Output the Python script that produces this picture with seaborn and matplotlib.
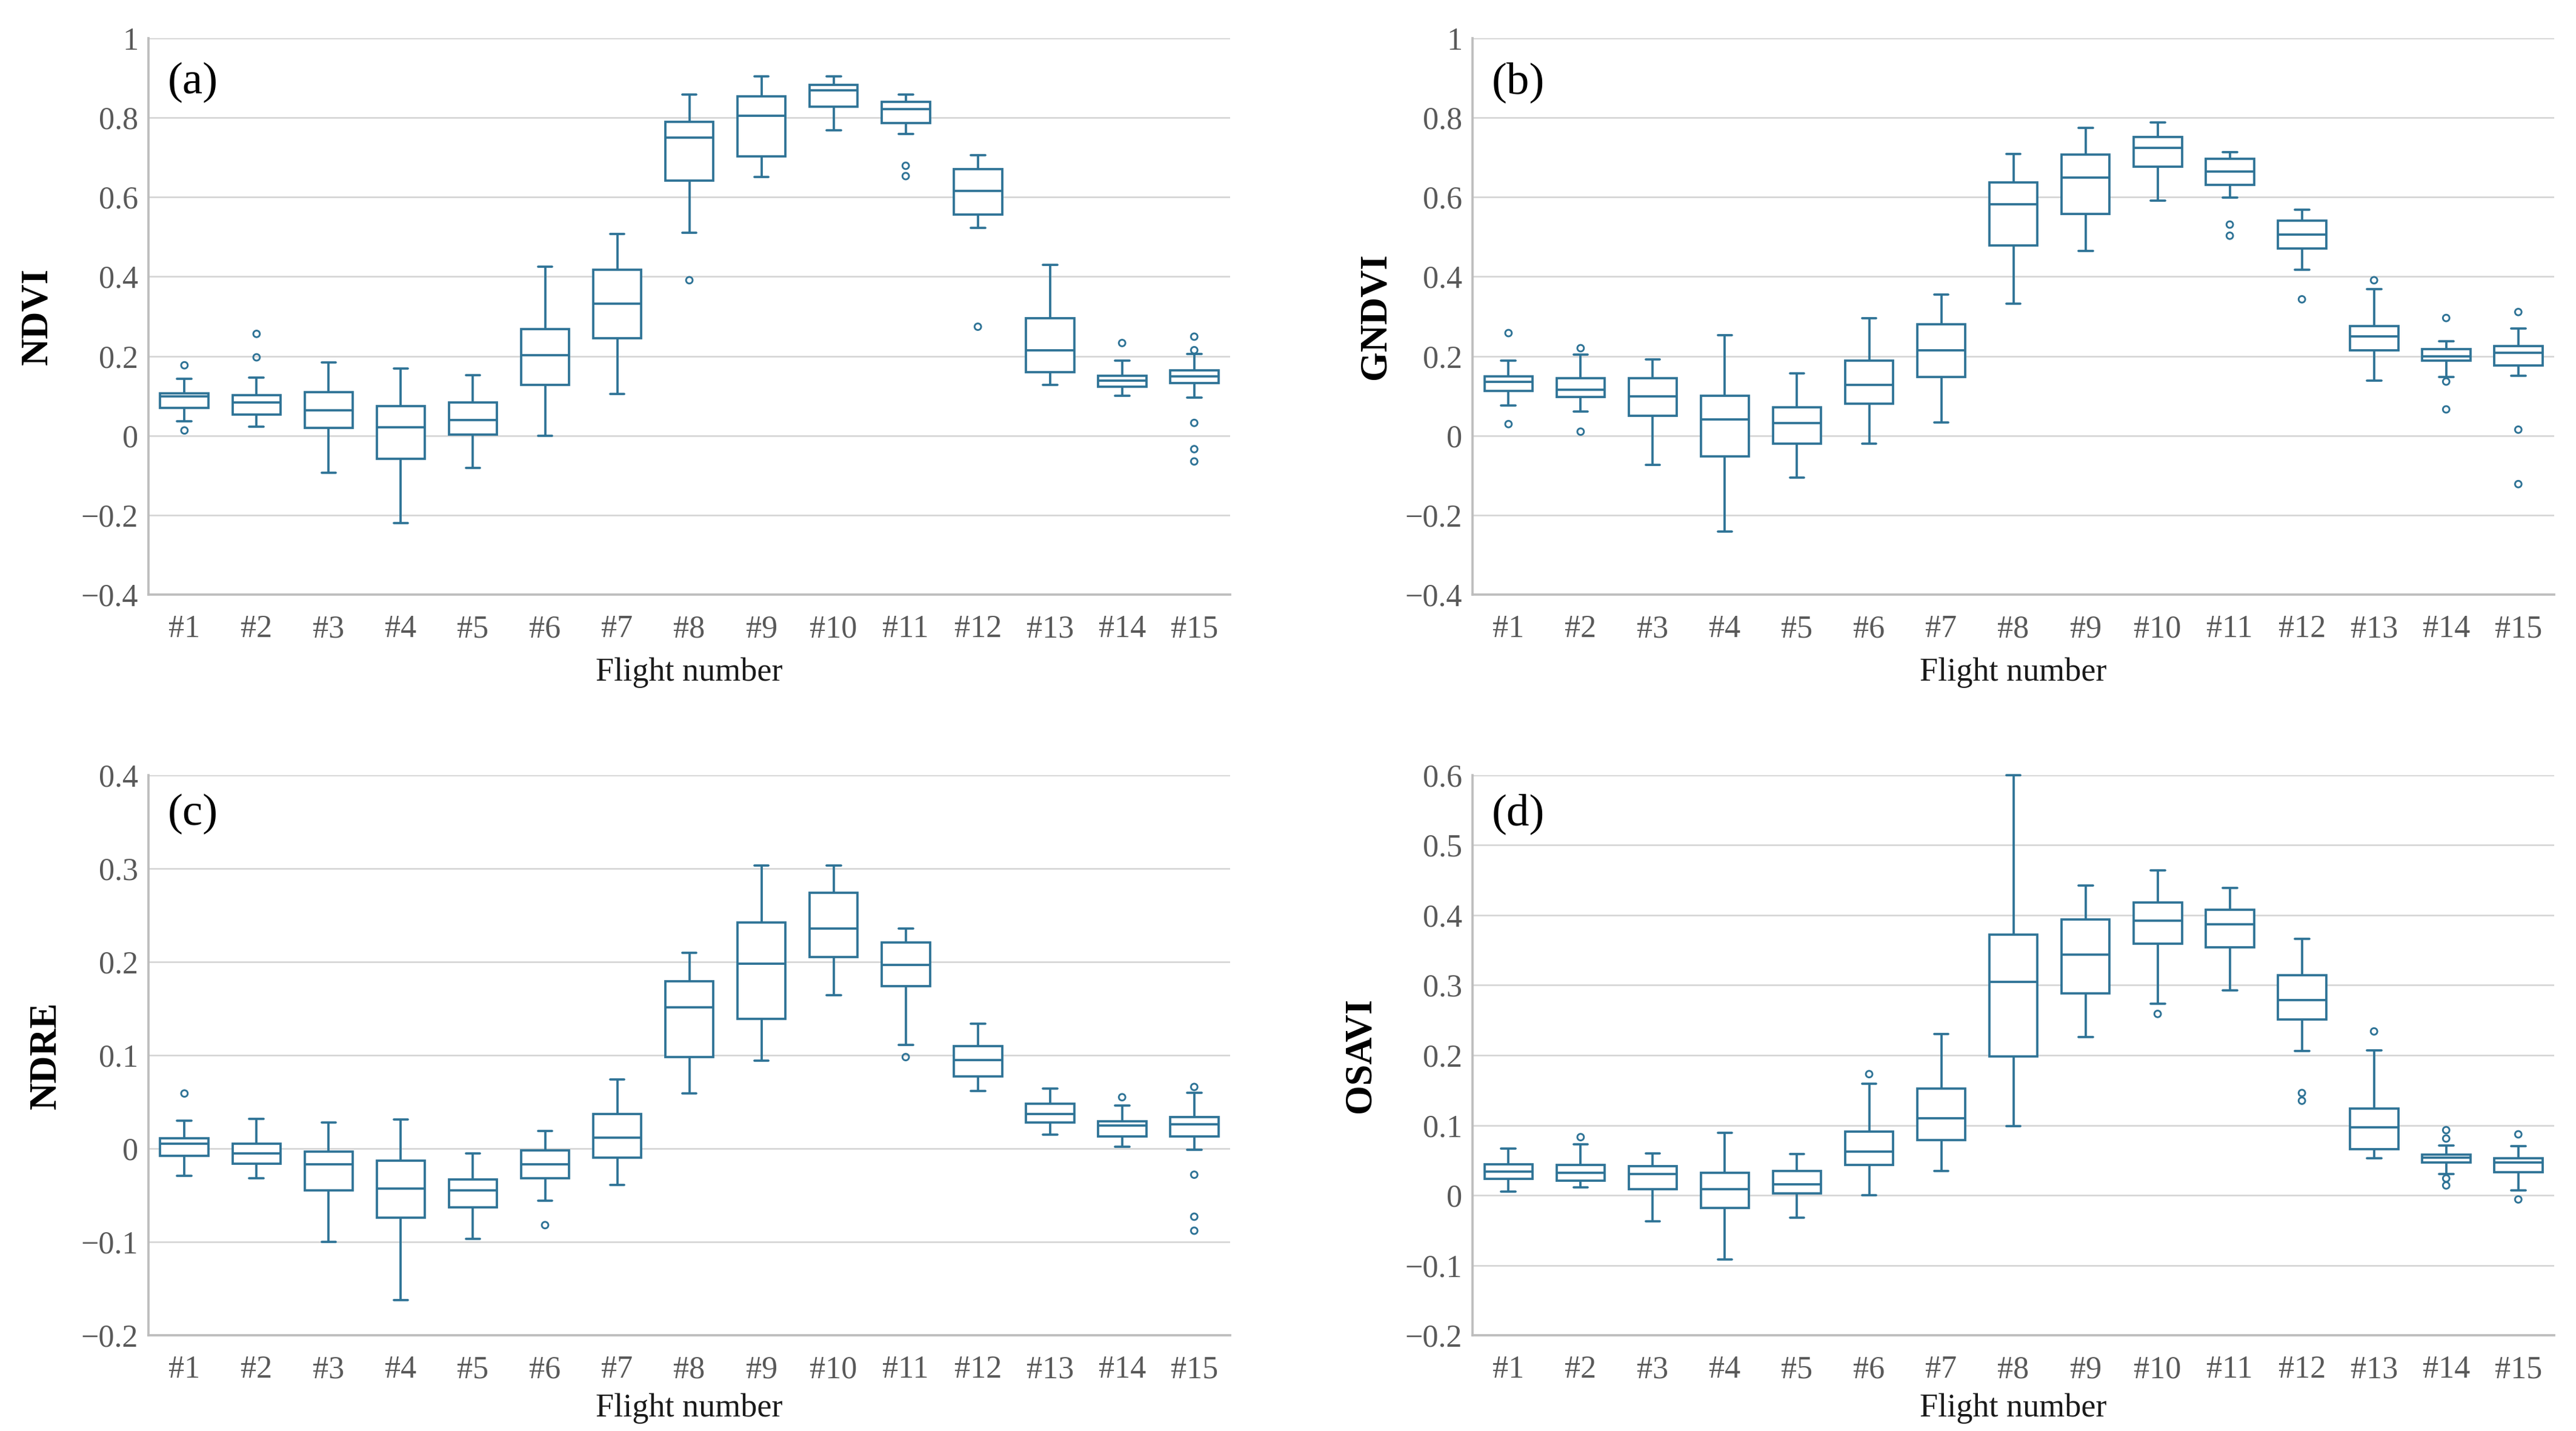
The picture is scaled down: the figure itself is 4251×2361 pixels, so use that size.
import numpy as np
import pandas as pd
import matplotlib
matplotlib.use("Agg")
import matplotlib.pyplot as plt
import seaborn as sns
from matplotlib.ticker import MultipleLocator, FuncFormatter

flights = [f"#{i}" for i in range(1, 16)]

# ---------------- NDVI (a) ----------------
ndvi_lo  = [0.036, 0.022, -0.094, -0.220, -0.082, 0.000, 0.105, 0.510, 0.651, 0.768, 0.759, 0.523, 0.128, 0.100, 0.096]
ndvi_q1  = [0.069, 0.053, 0.020, -0.059, 0.002, 0.127, 0.245, 0.641, 0.703, 0.827, 0.787, 0.556, 0.159, 0.123, 0.132]
ndvi_med = [0.098, 0.083, 0.063, 0.021, 0.039, 0.203, 0.332, 0.750, 0.805, 0.869, 0.821, 0.616, 0.214, 0.139, 0.149]
ndvi_q3  = [0.107, 0.101, 0.109, 0.075, 0.084, 0.268, 0.418, 0.789, 0.854, 0.882, 0.840, 0.671, 0.296, 0.151, 0.164]
ndvi_hi  = [0.143, 0.146, 0.184, 0.169, 0.152, 0.425, 0.508, 0.858, 0.904, 0.904, 0.858, 0.705, 0.429, 0.188, 0.205]
ndvi_out_flight = ["#1", "#1", "#2", "#2", "#8", "#11", "#11", "#12", "#14", "#15", "#15", "#15", "#15", "#15"]
ndvi_out_value  = [0.177, 0.013, 0.256, 0.197, 0.391, 0.679, 0.653, 0.274, 0.233, 0.249, 0.215, 0.032, -0.034, -0.065]

# ---------------- GNDVI (b) ----------------
gndvi_lo  = [0.076, 0.060, -0.073, -0.242, -0.105, -0.020, 0.033, 0.332, 0.464, 0.592, 0.599, 0.418, 0.138, 0.147, 0.151]
gndvi_q1  = [0.113, 0.097, 0.050, -0.053, -0.020, 0.081, 0.147, 0.479, 0.558, 0.676, 0.631, 0.471, 0.214, 0.188, 0.176]
gndvi_med = [0.136, 0.116, 0.098, 0.041, 0.031, 0.128, 0.215, 0.582, 0.650, 0.724, 0.665, 0.506, 0.250, 0.199, 0.209]
gndvi_q3  = [0.149, 0.144, 0.144, 0.100, 0.071, 0.189, 0.280, 0.637, 0.707, 0.752, 0.697, 0.541, 0.276, 0.217, 0.226]
gndvi_hi  = [0.188, 0.204, 0.191, 0.253, 0.157, 0.296, 0.355, 0.709, 0.775, 0.788, 0.713, 0.569, 0.368, 0.238, 0.270]
gndvi_out_flight = ["#1", "#1", "#2", "#2", "#11", "#11", "#12", "#13", "#14", "#14", "#14", "#15", "#15", "#15"]
gndvi_out_value  = [0.258, 0.029, 0.220, 0.010, 0.531, 0.503, 0.343, 0.391, 0.296, 0.136, 0.066, 0.311, 0.015, -0.122]

# ---------------- NDRE (c) ----------------
ndre_lo  = [-0.029, -0.032, -0.100, -0.162, -0.097, -0.056, -0.039, 0.059, 0.094, 0.164, 0.111, 0.062, 0.015, 0.002, -0.001]
ndre_q1  = [-0.008, -0.016, -0.045, -0.074, -0.063, -0.032, -0.010, 0.098, 0.139, 0.205, 0.174, 0.077, 0.028, 0.013, 0.013]
ndre_med = [0.005, -0.005, -0.017, -0.043, -0.045, -0.017, 0.012, 0.151, 0.198, 0.236, 0.197, 0.095, 0.037, 0.025, 0.026]
ndre_q3  = [0.011, 0.005, -0.003, -0.013, -0.033, -0.002, 0.037, 0.179, 0.242, 0.274, 0.221, 0.110, 0.048, 0.029, 0.034]
ndre_hi  = [0.030, 0.032, 0.028, 0.031, -0.005, 0.019, 0.074, 0.210, 0.303, 0.303, 0.236, 0.134, 0.064, 0.046, 0.060]
ndre_out_flight = ["#1", "#6", "#11", "#14", "#15", "#15", "#15", "#15"]
ndre_out_value  = [0.059, -0.082, 0.098, 0.055, 0.066, -0.028, -0.073, -0.088]

# ---------------- OSAVI (d) ----------------
osavi_lo  = [0.005, 0.011, -0.037, -0.092, -0.032, 0.000, 0.035, 0.099, 0.226, 0.274, 0.293, 0.206, 0.053, 0.030, 0.007]
osavi_q1  = [0.023, 0.021, 0.009, -0.018, 0.003, 0.043, 0.079, 0.198, 0.288, 0.359, 0.354, 0.251, 0.066, 0.047, 0.033]
osavi_med = [0.034, 0.032, 0.030, 0.009, 0.016, 0.062, 0.110, 0.305, 0.344, 0.392, 0.387, 0.279, 0.097, 0.054, 0.047]
osavi_q3  = [0.044, 0.043, 0.042, 0.032, 0.035, 0.091, 0.152, 0.372, 0.394, 0.418, 0.408, 0.314, 0.124, 0.058, 0.053]
osavi_hi  = [0.067, 0.073, 0.060, 0.089, 0.059, 0.159, 0.230, 0.600, 0.442, 0.464, 0.439, 0.366, 0.207, 0.071, 0.070]
osavi_out_flight = ["#2", "#6", "#10", "#12", "#12", "#13", "#14", "#14", "#14", "#14", "#15", "#15"]
osavi_out_value  = [0.083, 0.173, 0.259, 0.146, 0.135, 0.234, 0.093, 0.081, 0.024, 0.014, 0.087, -0.006]

# ---------------- style ----------------
sns.set_theme(style="whitegrid")
plt.rcParams['font.family'] = ['Liberation Serif', 'DejaVu Serif']
plt.rcParams['axes.unicode_minus'] = True

LINE = "#2E7396"
GRID = "#D3D3D3"
SPINE = "#BDBDBD"
TICK = "#595959"

fig = plt.figure(figsize=(4251 / 300, 2361 / 300), dpi=300)


def fmt(v, pos):
    v = round(v, 6)
    if abs(v) < 1e-9:
        return "0"
    return f"{v:g}".replace("-", "\u2212")


def panel(rect, name, lo, q1, med, q3, hi, of, ov, ylim, step, letter, letter_y, ylab_x, xlab_y):
    ax = fig.add_axes(rect)
    stats = np.column_stack([lo, q1, med, q3, hi])
    df = pd.DataFrame({"Flight": np.repeat(flights, 5), "value": stats.ravel()})
    sns.boxplot(data=df, x="Flight", y="value", order=flights, ax=ax,
                whis=(0, 100), width=0.67, color="white", linecolor=LINE,
                linewidth=0.9, fliersize=0, capwidths=0.2)
    for ln in ax.lines:
        ln.set_clip_on(False)
    fd = pd.DataFrame({"Flight": of, "value": ov})
    sns.stripplot(data=fd, x="Flight", y="value", order=flights, ax=ax,
                  jitter=False, size=2.6, color=LINE, facecolors="none",
                  edgecolor=LINE, linewidth=0.7, zorder=4)
    ax.set_xlim(-0.5, 14.5)
    ax.set_ylim(*ylim)
    ax.yaxis.set_major_locator(MultipleLocator(step))
    ax.yaxis.set_major_formatter(FuncFormatter(fmt))
    ax.grid(axis="y", color=GRID, linewidth=0.6)
    ax.grid(axis="x", visible=False)
    ax.set_axisbelow(True)
    for s in ["top", "right"]:
        ax.spines[s].set_visible(False)
    for s in ["left", "bottom"]:
        ax.spines[s].set_color(SPINE)
        ax.spines[s].set_linewidth(0.9)
    ax.tick_params(axis="both", length=0, labelsize=12.5, colors=TICK)
    ax.tick_params(axis="x", pad=8)
    ax.tick_params(axis="y", pad=4)
    ax.set_ylabel(name, fontsize=15, fontweight="bold", color="black")
    ax.yaxis.set_label_coords(ylab_x, 0.5)
    ax.set_xlabel("Flight number", fontsize=13, color="#1a1a1a")
    ax.xaxis.set_label_coords(0.5, xlab_y)
    ax.xaxis.label.set_va("center")
    ax.yaxis.label.set_va("center")
    ax.text(0.018, letter_y, letter, transform=ax.transAxes, fontsize=18,
            va="center", ha="left", color="black")
    return ax


W = 0.42
panel([0.0576, 0.5845, W, 0.3888], "NDVI", ndvi_lo, ndvi_q1, ndvi_med, ndvi_q3, ndvi_hi,
      ndvi_out_flight, ndvi_out_value, (-0.4, 1.0), 0.2, "(a)", 0.92, -0.102, -0.140)
panel([0.5716, 0.5845, W, 0.3888], "GNDVI", gndvi_lo, gndvi_q1, gndvi_med, gndvi_q3, gndvi_hi,
      gndvi_out_flight, gndvi_out_value, (-0.4, 1.0), 0.2, "(b)", 0.92, -0.089, -0.140)
panel([0.0576, 0.0669, W, 0.3914], "NDRE", ndre_lo, ndre_q1, ndre_med, ndre_q3, ndre_hi,
      ndre_out_flight, ndre_out_value, (-0.2, 0.4), 0.1, "(c)", 0.93, -0.094, -0.131)
panel([0.5716, 0.0669, W, 0.3914], "OSAVI", osavi_lo, osavi_q1, osavi_med, osavi_q3, osavi_hi,
      osavi_out_flight, osavi_out_value, (-0.2, 0.6), 0.1, "(d)", 0.93, -0.103, -0.131)

fig.savefig("out.png", dpi=300, facecolor="white")
